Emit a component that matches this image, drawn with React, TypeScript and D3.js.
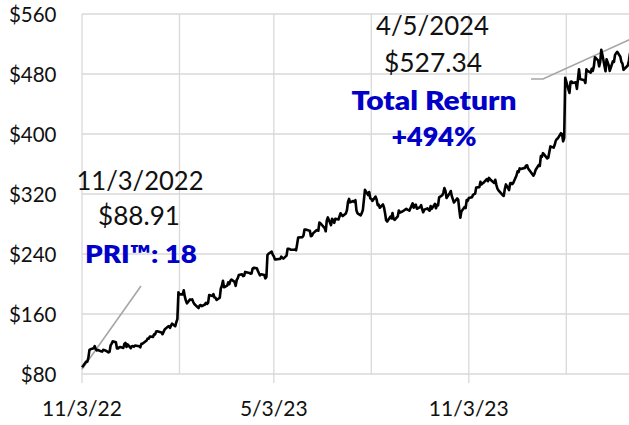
import React, { useRef, useEffect } from 'react';
import * as d3 from 'd3';

// months covered, one row of trading days + closes per month
const months = [
  '2022-11', '2022-12', '2023-01', '2023-02', '2023-03', '2023-04',
  '2023-05', '2023-06', '2023-07', '2023-08', '2023-09', '2023-10',
  '2023-11', '2023-12', '2024-01', '2024-02', '2024-03', '2024-04',
];

const tradingDays = [
  [3, 4, 7, 8, 9, 10, 11, 14, 15, 16, 17, 18, 21, 22, 23, 25, 28, 29, 30],
  [1, 2, 5, 6, 7, 8, 9, 12, 13, 14, 15, 16, 19, 20, 21, 22, 23, 27, 28, 29, 30],
  [3, 4, 5, 6, 9, 10, 11, 12, 13, 17, 18, 19, 20, 23, 24, 25, 26, 27, 30, 31],
  [1, 2, 3, 6, 7, 8, 9, 10, 13, 14, 15, 16, 17, 21, 22, 23, 24, 27, 28],
  [1, 2, 3, 6, 7, 8, 9, 10, 13, 14, 15, 16, 17, 20, 21, 22, 23, 24, 27, 28, 29, 30, 31],
  [3, 4, 5, 6, 10, 11, 12, 13, 14, 17, 18, 19, 20, 21, 24, 25, 26, 27, 28],
  [1, 2, 3, 4, 5, 8, 9, 10, 11, 12, 15, 16, 17, 18, 19, 22, 23, 24, 25, 26, 30, 31],
  [1, 2, 5, 6, 7, 8, 9, 12, 13, 14, 15, 16, 20, 21, 22, 23, 26, 27, 28, 29, 30],
  [3, 5, 6, 7, 10, 11, 12, 13, 14, 17, 18, 19, 20, 21, 24, 25, 26, 27, 28, 31],
  [1, 2, 3, 4, 7, 8, 9, 10, 11, 14, 15, 16, 17, 18, 21, 22, 23, 24, 25, 28, 29, 30, 31],
  [1, 5, 6, 7, 8, 11, 12, 13, 14, 15, 18, 19, 20, 21, 22, 25, 26, 27, 28, 29],
  [2, 3, 4, 5, 6, 9, 10, 11, 12, 13, 16, 17, 18, 19, 20, 23, 24, 25, 26, 27, 30, 31],
  [1, 2, 3, 6, 7, 8, 9, 10, 13, 14, 15, 16, 17, 20, 21, 22, 24, 27, 28, 29, 30],
  [1, 4, 5, 6, 7, 8, 11, 12, 13, 14, 15, 18, 19, 20, 21, 22, 26, 27, 28, 29],
  [2, 3, 4, 5, 8, 9, 10, 11, 12, 16, 17, 18, 19, 22, 23, 24, 25, 26, 29, 30, 31],
  [1, 2, 5, 6, 7, 8, 9, 12, 13, 14, 15, 16, 20, 21, 22, 23, 26, 27, 28, 29],
  [1, 4, 5, 6, 7, 8, 11, 12, 13, 14, 15, 18, 19, 20, 21, 22, 25, 26, 27, 28],
  [1, 2, 3, 4, 5],
];

const closes = [
  [88.91, 90.79, 96.72, 96.47, 101.47, 111.87, 113.02, 114.22, 117.08, 113.23, 111.45, 112.05, 110.19, 109.86, 112.24, 111.41, 108.78, 109.46, 118.1],
  [120.44, 123.49, 122.43, 114.12, 113.93, 115.33, 115.9, 114.71, 120.15, 121.59, 116.15, 119.43, 114.48, 117.12, 117.37, 116.35, 118.04, 116.88, 115.62, 120.26, 120.34],
  [124.74, 127.37, 126.94, 130.02, 129.47, 132.99, 132.89, 136.71, 136.98, 135.36, 133.02, 136.15, 139.37, 143.16, 143.89, 141.6, 144.43, 147.12, 143.83, 148.97],
  [153.12, 188.77, 186.53, 186.06, 191.62, 183.43, 177.92, 174.15, 179.43, 179.05, 179.52, 175.97, 173.32, 167.85, 171.21, 172.0, 170.39, 172.68, 174.94],
  [173.42, 174.99, 185.25, 184.1, 186.42, 182.01, 181.73, 178.69, 181.68, 194.02, 197.75, 204.32, 195.61, 197.81, 202.16, 199.81, 204.28, 206.01, 202.84, 197.58, 205.35, 207.84, 211.94],
  [213.07, 210.51, 211.02, 216.1, 214.75, 213.85, 214.0, 220.64, 221.49, 220.97, 217.28, 214.24, 211.58, 212.88, 211.98, 207.54, 209.4, 238.56, 240.32],
  [243.18, 239.1, 237.03, 232.78, 232.78, 233.27, 233.27, 236.43, 235.08, 233.81, 237.79, 246.85, 246.85, 246.6, 245.64, 245.64, 246.0, 244.96, 253.0, 262.04, 262.52, 264.72],
  [272.61, 272.61, 271.39, 271.12, 263.6, 264.58, 267.51, 271.32, 271.91, 271.05, 282.04, 281.0, 274.45, 270.31, 284.84, 288.73, 278.47, 287.05, 285.29, 281.53, 286.98],
  [286.02, 294.37, 291.99, 290.53, 294.1, 298.29, 309.34, 313.41, 308.87, 310.62, 309.34, 311.8, 298.0, 294.26, 291.61, 294.47, 298.57, 311.71, 325.48, 318.6],
  [322.71, 314.31, 313.52, 310.73, 316.56, 312.64, 305.21, 305.74, 301.64, 306.19, 301.95, 294.29, 285.09, 283.25, 289.9, 287.6, 294.66, 286.75, 285.5, 290.26, 297.99, 295.1, 295.89],
  [296.38, 300.15, 299.17, 298.67, 297.89, 307.56, 301.66, 305.06, 305.74, 300.31, 302.55, 305.07, 299.67, 295.73, 299.08, 300.83, 298.96, 297.74, 303.96, 300.21],
  [306.82, 300.94, 305.58, 304.79, 315.43, 318.36, 321.84, 327.82, 324.16, 314.69, 321.15, 324.0, 316.97, 312.81, 308.65, 314.01, 312.55, 299.53, 288.35, 296.73, 302.66, 301.27],
  [311.85, 310.87, 314.6, 315.8, 318.82, 319.78, 320.55, 328.77, 329.19, 336.31, 332.71, 334.19, 335.04, 339.97, 336.98, 341.49, 338.23, 334.7, 338.99, 332.2, 327.15],
  [324.82, 320.02, 318.29, 317.45, 326.59, 332.75, 325.28, 334.22, 334.73, 333.17, 334.92, 344.62, 350.36, 349.28, 354.09, 353.39, 354.83, 357.83, 358.32, 353.96],
  [346.29, 344.47, 347.12, 351.95, 358.66, 357.43, 370.47, 369.67, 374.49, 367.46, 368.37, 376.13, 383.45, 381.78, 385.2, 390.7, 393.18, 394.14, 401.02, 400.06, 390.14],
  [394.78, 474.99, 459.41, 454.72, 469.59, 470.0, 468.11, 468.9, 460.12, 473.28, 486.13, 473.32, 471.75, 468.03, 486.13, 484.03, 481.74, 487.05, 484.02, 490.13],
  [502.3, 498.19, 490.22, 496.09, 512.19, 505.95, 483.59, 499.75, 495.57, 491.83, 484.1, 496.98, 496.24, 505.52, 507.76, 509.58, 503.02, 495.89, 493.86, 485.58],
  [491.35, 497.37, 506.74, 510.92, 527.34],
];

const yTicks = [80, 160, 240, 320, 400, 480, 560];
const xTickLabels = ['11/3/22', '5/3/23', '11/3/23'];
const startNote = ['11/3/2022', '$88.91', 'PRI\u2122: 18'];
const endNote = ['4/5/2024', '$527.34', 'Total Return', '+494%'];

const FONT = 'Lato, "Open Sans", sans-serif';
const BLUE = '#0000C8';

const App = () => {
  const ref = useRef<SVGSVGElement>(null);

  useEffect(() => {
    const width = 629;
    const plot = { left: 82, right: 632, top: 14, bottom: 374 };

    const series = months.flatMap((m, i) =>
      tradingDays[i].map((d, j) => ({
        date: new Date(`${m}-${String(d).padStart(2, '0')}T00:00:00Z`),
        value: closes[i][j],
      }))
    );
    const first = series[0];
    const last = series[series.length - 1];

    const x = d3.scaleUtc().domain([first.date, last.date]).range([plot.left, plot.right]);
    const y = d3.scaleLinear().domain([80, 560]).range([plot.bottom, plot.top]);

    const svg = d3.select(ref.current);
    svg.selectAll('*').remove();

    // grid: quarterly verticals, labels every 6 months
    const gridDates = d3.range(0, 6).map(i => d3.utcMonth.offset(first.date, 3 * i));
    const labelDates = d3.range(0, 3).map(i => d3.utcMonth.offset(first.date, 6 * i));

    const grid = svg.append('g').attr('stroke', '#D9D9D9').attr('stroke-width', 1.3);
    grid.selectAll('line.h')
      .data(yTicks)
      .join('line')
      .attr('x1', plot.left).attr('x2', width)
      .attr('y1', d => y(d)).attr('y2', d => y(d));
    grid.selectAll('line.v')
      .data(gridDates)
      .join('line')
      .attr('x1', d => x(d)).attr('x2', d => x(d))
      .attr('y1', plot.top).attr('y2', plot.bottom);
    grid.selectAll('line.t')
      .data(labelDates)
      .join('line')
      .attr('x1', d => x(d)).attr('x2', d => x(d))
      .attr('y1', plot.bottom).attr('y2', plot.bottom + 9);

    // y labels
    svg.append('g')
      .selectAll('text')
      .data(yTicks)
      .join('text')
      .attr('x', 56.5)
      .attr('y', d => y(d) + 7.5)
      .attr('text-anchor', 'end')
      .attr('font-family', FONT)
      .attr('font-size', 20.5)
      .attr('fill', '#111')
      .text(d => `$${d}`);

    // x labels
    svg.append('g')
      .selectAll('text')
      .data(labelDates)
      .join('text')
      .attr('x', d => x(d))
      .attr('y', 416)
      .attr('text-anchor', 'middle')
      .attr('font-family', FONT)
      .attr('font-size', 21)
      .attr('fill', '#111')
      .text((d, i) => xTickLabels[i]);

    // pointer lines
    const pointer = svg.append('g')
      .attr('fill', 'none')
      .attr('stroke', '#A6A6A6')
      .attr('stroke-width', 1.6);
    pointer.append('path')
      .attr('d', d3.line()([[x(first.date), y(first.value) + 2], [141, 286]]));
    pointer.append('path')
      .attr('d', d3.line()([[531, 79], [543, 79], [x(last.date), y(last.value)]]));

    // price line
    const priceLine = d3.line<{ date: Date; value: number }>()
      .x(d => x(d.date))
      .y(d => y(d.value));
    svg.append('path')
      .datum(series)
      .attr('d', priceLine)
      .attr('fill', 'none')
      .attr('stroke', '#000')
      .attr('stroke-width', 2.6)
      .attr('stroke-linejoin', 'round');

    // annotations
    const notes = [
      { text: startNote[0], x: 140, y: 190, size: 26.5, len: 127, bold: false },
      { text: startNote[1], x: 139, y: 225, size: 26.5, len: 82, bold: false },
      { text: startNote[2], x: 141, y: 263, size: 25, len: 112, bold: true },
      { text: endNote[0], x: 432.5, y: 35, size: 26.5, len: 113, bold: false },
      { text: endNote[1], x: 433, y: 71.5, size: 26.5, len: 98, bold: false },
      { text: endNote[2], x: 434, y: 110, size: 27, len: 165, bold: true },
      { text: endNote[3], x: 434, y: 146, size: 27, len: 85, bold: true },
    ];
    svg.append('g')
      .selectAll('text')
      .data(notes)
      .join('text')
      .attr('x', d => d.x)
      .attr('y', d => d.y)
      .attr('text-anchor', 'middle')
      .attr('font-family', FONT)
      .attr('font-size', d => d.size)
      .attr('font-weight', d => (d.bold ? 800 : 400))
      .attr('fill', d => (d.bold ? BLUE : '#111'))
      .attr('textLength', d => d.len)
      .attr('lengthAdjust', 'spacingAndGlyphs')
      .text(d => d.text);
  }, []);

  return (
    <div style={{ position: 'absolute', left: 0, top: 0 }}>
      <svg ref={ref} width={629} height={425} style={{ display: 'block', background: '#fff' }} />
    </div>
  );
};

export default App;
